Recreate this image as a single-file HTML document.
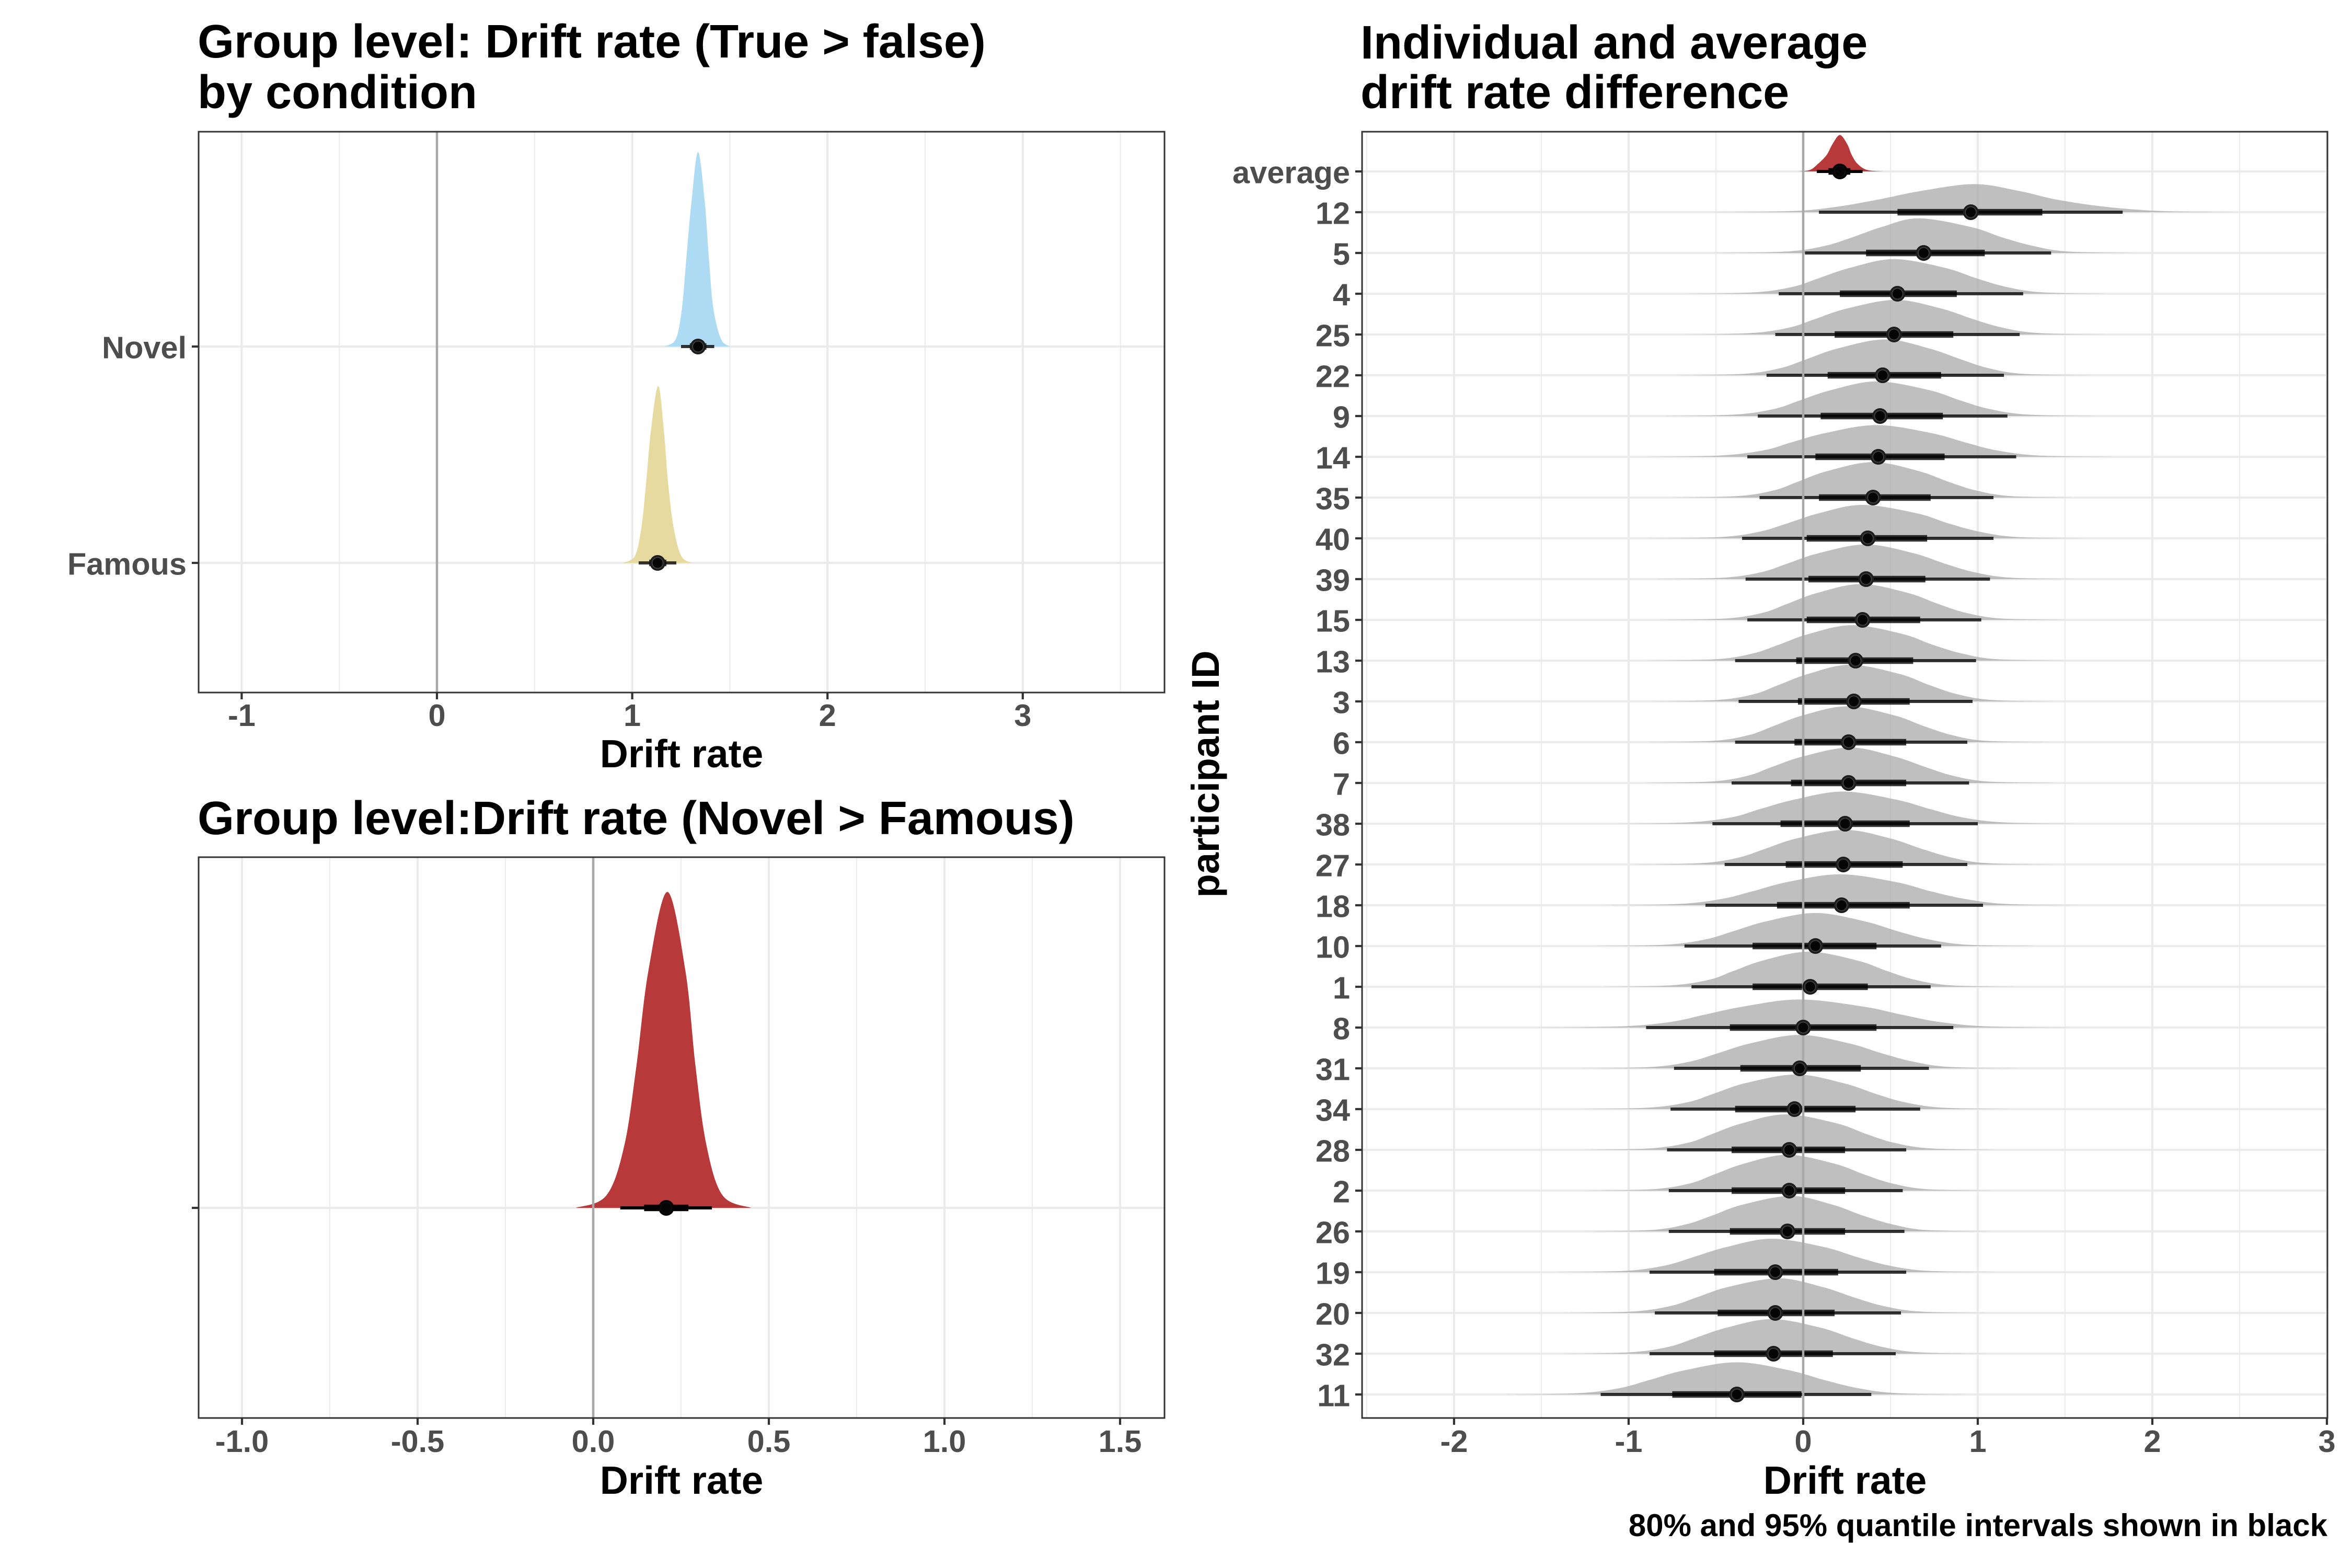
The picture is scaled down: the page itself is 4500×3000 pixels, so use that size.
<!DOCTYPE html>
<html lang="en">
<head>
<meta charset="utf-8">
<title>Drift rate posterior densities</title>
<style>
html,body{margin:0;padding:0;background:#fff;}
svg{display:block;font-family:"Liberation Sans",Arial,sans-serif;font-weight:bold;}
.title{font-size:90px;fill:#000;}
.axis-title{font-size:75px;fill:#000;}
.tick{font-size:59.5px;fill:#4d4d4d;}
</style>
</head>
<body>
<svg id="chart" xmlns="http://www.w3.org/2000/svg" width="4500" height="3000" viewBox="0 0 4500 3000">
  <rect x="0" y="0" width="4500" height="3000" fill="#ffffff"/>
  <text class="title" x="378" y="110">Group level: Drift rate (True &gt; false)</text>
  <text class="title" x="378" y="207">by condition</text>
  <text class="title" x="378" y="1596">Group level:Drift rate (Novel &gt; Famous)</text>
  <text class="title" x="2603" y="112">Individual and average</text>
  <text class="title" x="2603" y="207">drift rate difference</text>
  <text class="axis-title" x="1304" y="1468" text-anchor="middle">Drift rate</text>
  <text class="axis-title" x="1304" y="2858" text-anchor="middle">Drift rate</text>
  <text class="axis-title" x="3530" y="2858" text-anchor="middle">Drift rate</text>
  <text transform="translate(2332,1481) rotate(-90)" text-anchor="middle" style="font-size:74px;fill:#000">participant ID</text>
  <text x="4453" y="2939" text-anchor="end" style="font-size:60px;fill:#000">80% and 95% quantile intervals shown in black</text>
  <g id="layer"></g>
</svg>
<script>
// ---- shared density shape: fraction of peak height at each crossing
const densityLevels = [0, 0.04, 0.2, 0.45, 0.75, 1, 0.75, 0.45, 0.2, 0.04, 0];

// ---- condition panel
const conditionLabels = ["Novel", "Famous"];
const conditionMedian = [1.337, 1.13];
const conditionQ025 = [1.25, 1.033];
const conditionQ10 = [1.295, 1.087];
const conditionQ90 = [1.38, 1.175];
const conditionQ975 = [1.42, 1.226];
const conditionPeak = [372, 338.5];
const conditionDensityX = [
  [1.166, 1.224, 1.255, 1.277, 1.304, 1.337, 1.371, 1.393, 1.415, 1.454, 1.5],
  [0.952, 1.014, 1.047, 1.071, 1.096, 1.133, 1.162, 1.184, 1.212, 1.251, 1.304]
];
const conditionTicks = [-1, 0, 1, 2, 3];
const conditionMinorTicks = [-0.5, 0.5, 1.5, 2.5, 3.5];

// ---- difference panel
const differenceMedian = [0.208];
const differenceQ025 = [0.077];
const differenceQ10 = [0.145];
const differenceQ90 = [0.271];
const differenceQ975 = [0.338];
const differencePeak = [604.5];
const differenceDensityX = [
  [-0.05, 0.038, 0.089, 0.123, 0.157, 0.211, 0.2625, 0.291, 0.322, 0.368, 0.45]
];
const differenceTicks = [-1, -0.5, 0, 0.5, 1, 1.5];
const differenceTickLabels = ["-1.0", "-0.5", "0.0", "0.5", "1.0", "1.5"];
const differenceMinorTicks = [-0.75, -0.25, 0.25, 0.75, 1.25];

// ---- individual panel
const rowLabels = ["average","12","5","4","25","22","9","14","35","40","39","15","13","3","6","7","38","27","18","10","1","8","31","34","28","2","26","19","20","32","11"];
const rowMedian = [0.21,0.96,0.69,0.54,0.52,0.455,0.44,0.43,0.40,0.37,0.36,0.34,0.30,0.29,0.26,0.26,0.24,0.23,0.22,0.07,0.04,0,-0.02,-0.05,-0.08,-0.08,-0.09,-0.16,-0.16,-0.17,-0.38];
const rowQ025 = [0.078,0.09,0.01,-0.14,-0.16,-0.21,-0.26,-0.32,-0.25,-0.35,-0.33,-0.32,-0.39,-0.37,-0.39,-0.41,-0.52,-0.45,-0.56,-0.68,-0.64,-0.90,-0.74,-0.76,-0.78,-0.77,-0.77,-0.88,-0.85,-0.88,-1.16];
const rowQ10 = [0.145,0.54,0.36,0.21,0.18,0.14,0.10,0.07,0.09,0.02,0.03,0.02,-0.04,-0.03,-0.05,-0.07,-0.13,-0.10,-0.15,-0.29,-0.29,-0.42,-0.36,-0.39,-0.41,-0.41,-0.42,-0.51,-0.49,-0.51,-0.75];
const rowQ90 = [0.27,1.37,1.04,0.88,0.86,0.79,0.80,0.81,0.73,0.71,0.70,0.67,0.63,0.61,0.59,0.59,0.61,0.57,0.61,0.42,0.37,0.42,0.33,0.30,0.24,0.24,0.24,0.20,0.18,0.17,-0.01];
const rowQ975 = [0.34,1.83,1.42,1.26,1.24,1.15,1.17,1.22,1.09,1.09,1.07,1.02,0.99,0.97,0.94,0.95,1.00,0.94,1.03,0.79,0.73,0.86,0.72,0.67,0.59,0.57,0.58,0.59,0.56,0.53,0.39];
const rowPeak = [0.895,0.69,0.85,0.85,0.85,0.88,0.85,0.78,0.87,0.82,0.85,0.88,0.87,0.90,0.88,0.87,0.79,0.85,0.76,0.81,0.86,0.69,0.82,0.85,0.87,0.88,0.87,0.82,0.85,0.85,0.79];
const rowDensityX = [
  [-0.03,0.038,0.083,0.134,0.168,0.21,0.252,0.278,0.313,0.367,0.46],
  [-0.52,-0.06,0.20,0.43,0.67,0.98,1.24,1.45,1.72,2.05,2.47],
  [-0.53,-0.10,0.12,0.28,0.45,0.66,0.96,1.14,1.32,1.52,1.91],
  [-0.67,-0.28,-0.06,0.09,0.27,0.52,0.81,0.99,1.16,1.37,1.75],
  [-0.69,-0.30,-0.08,0.07,0.25,0.53,0.79,0.97,1.14,1.35,1.73],
  [-0.73,-0.34,-0.13,0.02,0.20,0.47,0.72,0.90,1.06,1.26,1.64],
  [-0.80,-0.40,-0.17,-0.02,0.16,0.42,0.72,0.90,1.07,1.29,1.68],
  [-0.91,-0.48,-0.23,-0.07,0.13,0.42,0.73,0.93,1.11,1.35,1.77],
  [-0.76,-0.38,-0.17,-0.03,0.14,0.40,0.66,0.83,0.99,1.19,1.56],
  [-0.88,-0.47,-0.25,-0.09,0.09,0.34,0.65,0.83,1.01,1.22,1.62],
  [-0.85,-0.46,-0.24,-0.09,0.09,0.36,0.63,0.81,0.98,1.19,1.57],
  [-0.82,-0.44,-0.23,-0.09,0.08,0.33,0.60,0.77,0.93,1.13,1.50],
  [-0.90,-0.50,-0.29,-0.14,0.03,0.28,0.57,0.74,0.91,1.11,1.50],
  [-0.87,-0.49,-0.28,-0.14,0.03,0.27,0.55,0.72,0.88,1.08,1.45],
  [-0.89,-0.51,-0.31,-0.17,0,0.25,0.52,0.69,0.85,1.04,1.41],
  [-0.92,-0.53,-0.32,-0.18,0,0.27,0.52,0.70,0.86,1.06,1.44],
  [-1.08,-0.66,-0.41,-0.25,-0.05,0.23,0.53,0.73,0.91,1.15,1.56],
  [-0.98,-0.58,-0.37,-0.22,-0.04,0.24,0.50,0.68,0.85,1.05,1.44],
  [-1.16,-0.72,-0.47,-0.29,-0.09,0.21,0.53,0.73,0.93,1.17,1.60],
  [-1.20,-0.79,-0.56,-0.40,-0.21,0.07,0.35,0.54,0.72,0.94,1.34],
  [-1.15,-0.76,-0.54,-0.40,-0.23,0.03,0.31,0.48,0.64,0.85,1.23],
  [-1.53,-1.05,-0.76,-0.57,-0.34,-0.02,0.34,0.57,0.78,1.06,1.53],
  [-1.28,-0.87,-0.65,-0.49,-0.30,-0.02,0.26,0.45,0.63,0.84,1.24],
  [-1.29,-0.89,-0.66,-0.51,-0.33,-0.04,0.23,0.41,0.58,0.80,1.19],
  [-1.27,-0.88,-0.66,-0.52,-0.35,-0.10,0.19,0.36,0.52,0.73,1.11],
  [-1.24,-0.86,-0.65,-0.51,-0.34,-0.09,0.18,0.35,0.51,0.71,1.08],
  [-1.26,-0.87,-0.67,-0.52,-0.35,-0.07,0.17,0.34,0.51,0.70,1.08],
  [-1.43,-1.02,-0.79,-0.63,-0.44,-0.18,0.12,0.31,0.49,0.71,1.11],
  [-1.38,-0.98,-0.76,-0.61,-0.43,-0.14,0.11,0.29,0.46,0.67,1.06],
  [-1.39,-0.99,-0.77,-0.62,-0.44,-0.18,0.10,0.28,0.45,0.66,1.05],
  [-1.72,-1.29,-1.05,-0.88,-0.68,-0.38,-0.08,0.12,0.31,0.54,0.96]
];
const individualTicks = [-2, -1, 0, 1, 2, 3];
const individualMinorTicks = [-2.5, -1.5, -0.5, 0.5, 1.5, 2.5];

// ---- axis functions
const scaleCondition = v => 836 + 373.6 * v;
const scaleDifference = v => 1135 + 672 * v;
const scaleIndividual = v => 3450 + 334 * v;
const conditionRowY = i => 663 + 414 * i;
const differenceRowY = i => 2311;
const individualRowY = i => 328 + 78 * i;
const individualHeight = h => h * 78;
const identityHeight = h => h;

const SVGNS = "http://www.w3.org/2000/svg";
const layer = document.getElementById("layer");
function make(tag, parent, props) {
  const e = document.createElementNS(SVGNS, tag);
  for (const k in props) e.setAttribute(k, props[k]);
  parent.appendChild(e);
  return e;
}

function densityPath(xs, peak, baseY, sx) {
  const pts = xs.map((v, i) => [sx(v), baseY - densityLevels[i] * peak]);
  let d = "M" + pts[0][0].toFixed(1) + " " + baseY;
  for (let i = 0; i < pts.length - 1; i++) {
    const p0 = pts[Math.max(i - 1, 0)], p1 = pts[i], p2 = pts[i + 1], p3 = pts[Math.min(i + 2, pts.length - 1)];
    const top = baseY - peak;
    const clampY = y => Math.min(baseY, Math.max(top, y));
    const c1x = p1[0] + (p2[0] - p0[0]) / 6, c1y = clampY(p1[1] + (p2[1] - p0[1]) / 6);
    const c2x = p2[0] - (p3[0] - p1[0]) / 6, c2y = clampY(p2[1] - (p3[1] - p1[1]) / 6);
    d += "C" + c1x.toFixed(1) + " " + c1y.toFixed(1) + " " + c2x.toFixed(1) + " " + c2y.toFixed(1) + " " + p2[0].toFixed(1) + " " + p2[1].toFixed(1);
  }
  return d + "Z";
}

function drawPanel(cfg) {
  const g = make("g", layer, {});
  
  

  const clipId = cfg.name + "-clip";
  const defs = make("defs", g, {});
  const clip = make("clipPath", defs, { id: clipId });
  make("rect", clip, { x: cfg.left, y: cfg.top, width: cfg.right - cfg.left, height: cfg.bottom - cfg.top });
  const inner = make("g", g, { "clip-path": "url(#" + clipId + ")" });
  
  

  cfg.minorTicks.forEach(v => {
    const line = make("line", inner, { x1: cfg.sx(v), x2: cfg.sx(v), y1: cfg.top, y2: cfg.bottom, stroke: "#ebebeb", "stroke-width": 2.1 });
    
    
  });
  cfg.ticks.forEach(v => {
    const line = make("line", inner, { x1: cfg.sx(v), x2: cfg.sx(v), y1: cfg.top, y2: cfg.bottom, stroke: "#ebebeb", "stroke-width": 4.2 });
    
    
  });
  cfg.medians.forEach((m, i) => {
    const line = make("line", inner, { x1: cfg.left, x2: cfg.right, y1: cfg.sy(i), y2: cfg.sy(i), stroke: "#ebebeb", "stroke-width": 4.2 });
    
    
  });

  cfg.medians.forEach((m, i) => {
    const path = make("path", inner, { d: densityPath(cfg.densityX[i], cfg.sh(cfg.peaks[i]), cfg.sy(i), cfg.sx), fill: cfg.fill(i), "fill-opacity": cfg.fillOpacity(i) });
    
    
  });

  cfg.medians.forEach((m, i) => {
    const y = cfg.sy(i);
    const ig = make("g", inner, {});
    
    
    const alpha = cfg.solid(i) ? 1 : 0.78;
    const thin = make("line", ig, { x1: cfg.sx(cfg.q025[i]), x2: cfg.sx(cfg.q975[i]), y1: y, y2: y, stroke: "#000", "stroke-width": 6, opacity: alpha });
    
    
    const thick = make("line", ig, { x1: cfg.sx(cfg.q10[i]), x2: cfg.sx(cfg.q90[i]), y1: y, y2: y, stroke: "#000", "stroke-width": 12.5, opacity: alpha });
    
    
  });

  const zero = make("line", inner, { x1: cfg.sx(0), x2: cfg.sx(0), y1: cfg.top, y2: cfg.bottom, stroke: "#a8a8a8", "stroke-width": 4.5 });
  
  

  cfg.medians.forEach((m, i) => {
    const y = cfg.sy(i);
    const dot = make("circle", inner, { cx: cfg.sx(m), cy: y, r: 15, fill: cfg.solid(i) ? "#000" : "#1c1c1c" });
    
    
    const ring = make("circle", inner, { cx: cfg.sx(m), cy: y, r: 11.5, fill: cfg.solid(i) ? "#0c0c0c" : "#3c3c3c" });
    
    
    const core = make("circle", inner, { cx: cfg.sx(m), cy: y, r: 9.5, fill: "#050505" });
    
    
  });

  const border = make("rect", g, { x: cfg.left, y: cfg.top, width: cfg.right - cfg.left, height: cfg.bottom - cfg.top, fill: "none", stroke: "#333333", "stroke-width": 3 });
  
  

  cfg.ticks.forEach((v, i) => {
    const tk = make("line", g, { x1: cfg.sx(v), x2: cfg.sx(v), y1: cfg.bottom, y2: cfg.bottom + 13, stroke: "#333333", "stroke-width": 4.2 });
    
    
    const t = make("text", g, { x: cfg.sx(v), y: cfg.tickBaseline, "text-anchor": "middle", class: "tick" });
    t.textContent = cfg.tickLabels[i];
    
    
  });
  cfg.medians.forEach((m, i) => {
    const y = cfg.sy(i);
    const tk = make("line", g, { x1: cfg.left - 13, x2: cfg.left, y1: y, y2: y, stroke: "#333333", "stroke-width": 4.2 });
    
    
    if (cfg.labels) {
      const t = make("text", g, { x: cfg.left - 23, y: y + 22.4, "text-anchor": "end", class: "tick" });
      t.textContent = cfg.labels[i];
      
      
    }
  });
}

drawPanel({
  name: "condition", left: 380, right: 2228, top: 252, bottom: 1325, tickBaseline: 1389,
  solid: i => false, sx: scaleCondition, sy: conditionRowY, sh: identityHeight,
  ticks: conditionTicks, tickLabels: conditionTicks.map(String), minorTicks: conditionMinorTicks,
  labels: conditionLabels, medians: conditionMedian, q025: conditionQ025, q10: conditionQ10, q90: conditionQ90, q975: conditionQ975,
  peaks: conditionPeak, densityX: conditionDensityX, fill: i => (i === 0 ? "#addbf4" : "#e6da9f"), fillOpacity: i => 1
});
drawPanel({
  name: "difference", left: 380, right: 2228, top: 1640, bottom: 2713, tickBaseline: 2778,
  solid: i => true, sx: scaleDifference, sy: differenceRowY, sh: identityHeight,
  ticks: differenceTicks, tickLabels: differenceTickLabels, minorTicks: differenceMinorTicks,
  labels: null, medians: differenceMedian, q025: differenceQ025, q10: differenceQ10, q90: differenceQ90, q975: differenceQ975,
  peaks: differencePeak, densityX: differenceDensityX, fill: i => "#b83939", fillOpacity: i => 1
});
drawPanel({
  name: "individual", left: 2606, right: 4453, top: 252, bottom: 2713, tickBaseline: 2778,
  solid: i => i === 0, sx: scaleIndividual, sy: individualRowY, sh: individualHeight,
  ticks: individualTicks, tickLabels: individualTicks.map(String), minorTicks: individualMinorTicks,
  labels: rowLabels, medians: rowMedian, q025: rowQ025, q10: rowQ10, q90: rowQ90, q975: rowQ975,
  peaks: rowPeak, densityX: rowDensityX, fill: i => (i === 0 ? "#b83939" : "#aaaaaa"), fillOpacity: i => (i === 0 ? 1 : 0.75)
});
</script>
</body>
</html>
